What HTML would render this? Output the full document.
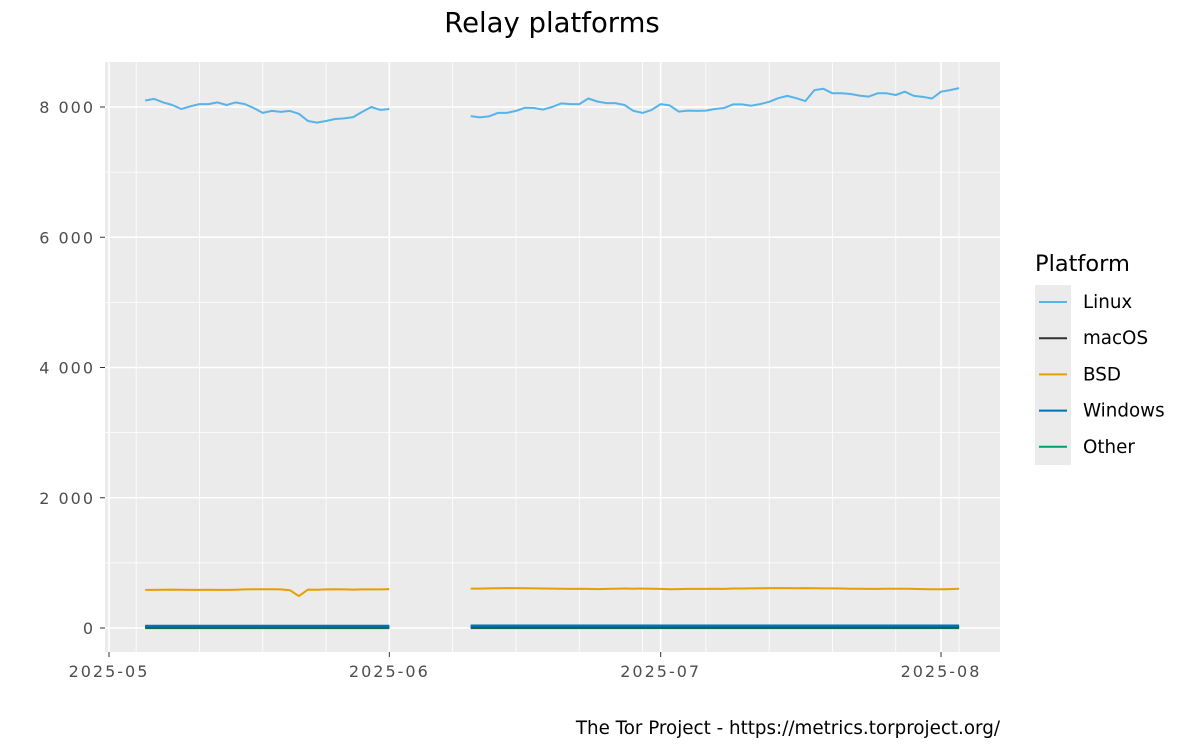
<!DOCTYPE html>
<html><head><meta charset="utf-8"><style>
html,body{margin:0;padding:0;background:#fff;}
svg{display:block;font-family:"DejaVu Sans","Liberation Sans",sans-serif;}
</style></head><body>
<svg id="chart" width="1200" height="750" viewBox="0 0 1200 750" xmlns="http://www.w3.org/2000/svg">
<rect x="0" y="0" width="1200" height="750" fill="#fff"/>
<text x="552" y="32" text-anchor="middle" font-size="27.5" fill="#000">Relay platforms</text>
<rect x="105" y="62" width="895" height="590" fill="#ebebeb"/>
<g id="grid"></g>
<g id="series"></g>
<g id="axes"></g>
<text x="1035" y="271" font-size="22.5" fill="#000">Platform</text>
<rect x="1035" y="285" width="36" height="180" fill="#ebebeb"/>
<g id="legend"></g>
<text x="1000" y="734" text-anchor="end" font-size="18.3" fill="#000">The Tor Project - https://metrics.torproject.org/</text>
</svg>
<script>
const yTicks = [0, 2000, 4000, 6000, 8000];
const yTickLabels = ["0", "2 000", "4 000", "6 000", "8 000"];
const xTickDates = ["2025-05-01", "2025-06-01", "2025-07-01", "2025-08-01"];
const xTickLabels = ["2025-05", "2025-06", "2025-07", "2025-08"];
const seg1Start = "2025-05-05";
const seg2Start = "2025-06-10";
const linux1 = [8100,8125,8070,8030,7970,8010,8045,8045,8070,8030,8070,8045,7985,7910,7940,7925,7940,7895,7785,7760,7785,7815,7825,7845,7925,8000,7955,7970];
const linux2 = [7860,7840,7855,7910,7910,7940,7990,7985,7960,8000,8055,8045,8045,8130,8085,8060,8060,8030,7940,7910,7955,8045,8025,7930,7945,7940,7945,7970,7985,8040,8040,8020,8045,8080,8135,8170,8135,8090,8260,8280,8210,8210,8200,8175,8160,8210,8210,8185,8235,8170,8155,8130,8235,8260,8290];
const bsd1 = [585,585,588,590,588,585,585,586,585,585,588,592,596,595,595,592,580,490,590,588,592,595,592,590,592,593,592,598];
const bsd2 = [605,605,608,610,612,612,610,608,606,605,603,600,602,600,598,600,604,606,603,605,604,600,596,598,600,600,600,602,600,606,606,608,610,612,612,612,610,612,610,608,608,606,604,602,600,600,604,602,604,600,598,596,595,598,604];
const mac1 = [15,15,15,15,15,15,15,15,15,15,15,15,15,15,15,15,15,15,15,15,15,15,15,15,15,15,15,15];
const win1 = [28,28,27,28,28,27,28,28,27,28,27,27,28,28,28,27,28,27,27,28,27,28,28,27,28,27,27,28];
const oth1 = [6,6,6,6,6,6,6,6,6,6,6,6,6,6,6,6,6,6,6,6,6,6,6,6,6,6,6,6];
const winLevel2 = 30, macLevel2 = 16, othLevel2 = 6;
const seriesNames = ["Linux","macOS","BSD","Windows","Other"];
const seriesColors = ["#56B4E9","#333333","#E69F00","#0072B2","#009E73"];

const NS = "http://www.w3.org/2000/svg";
const DAY = 86400000;
const x0 = Date.parse("2025-05-01"), px0 = 109, pxPerDay = (941-109)/92;
function xScale(d){ return px0 + ((typeof d==="number"? d : Date.parse(d)) - x0)/DAY*pxPerDay; }
function yScale(v){ return 628 - v*(628-107)/8000; }
function mk(tag, attrs, parent){ const e=document.createElementNS(NS,tag); for(const k in attrs) e.setAttribute(k,attrs[k]); parent.appendChild(e); return e; }

const grid=document.getElementById('grid');
for(let v=1000; v<=9000; v+=2000){ const y=yScale(v); if(y<62) continue;
  const l=mk('line',{x1:105,x2:1000,y1:y,y2:y,stroke:'#fff','stroke-width':0.8},grid);
    }
for(let t=Date.parse("2025-05-04"); t<=Date.parse("2025-08-10"); t+=7*DAY){ const x=xScale(t); if(x<105||x>1000) continue;
  const l=mk('line',{x1:x,x2:x,y1:62,y2:652,stroke:'#fff','stroke-width':0.8},grid);
    }
yTicks.forEach(v=>{ const y=yScale(v);
  const l=mk('line',{x1:105,x2:1000,y1:y,y2:y,stroke:'#fff','stroke-width':1.6},grid);
    });
xTickDates.forEach(d=>{ const x=xScale(d);
  const l=mk('line',{x1:x,x2:x,y1:62,y2:652,stroke:'#fff','stroke-width':1.6},grid);
    });

const axes=document.getElementById('axes');
yTicks.forEach((v,i)=>{ const y=yScale(v);
  const t=mk('line',{x1:100,x2:105,y1:y,y2:y,stroke:'#333','stroke-width':1},axes);
   
  const tx=mk('text',{x:95,y:y+6,'text-anchor':'end','font-size':16,'letter-spacing':2,fill:'#4d4d4d'},axes);
  tx.textContent=yTickLabels[i];
    });
xTickDates.forEach((d,i)=>{ const x=xScale(d);
  const t=mk('line',{x1:x,x2:x,y1:652,y2:657,stroke:'#333','stroke-width':1},axes);
   
  const tx=mk('text',{x:x,y:677,'text-anchor':'middle','font-size':16,'letter-spacing':2,fill:'#4d4d4d'},axes);
  tx.textContent=xTickLabels[i];
    });

const sg=document.getElementById('series');
function drawLine(vals, start, color, name, w){
  const s=Date.parse(start);
  const pts=vals.map((v,i)=>xScale(s+i*DAY).toFixed(1)+','+yScale(v).toFixed(1)).join(' ');
  const p=mk('polyline',{points:pts,fill:'none',stroke:color,'stroke-width':w||2,'stroke-linejoin':'round'},sg);
   
}
const n2=linux2.length;
const oth2=new Array(n2).fill(othLevel2), mac2=new Array(n2).fill(macLevel2), win2=new Array(n2).fill(winLevel2);
drawLine(oth1,seg1Start,seriesColors[4],'other-line-may',3); drawLine(oth2,seg2Start,seriesColors[4],'other-line-jun-aug',3);
drawLine(mac1,seg1Start,seriesColors[1],'macos-line-may',3); drawLine(mac2,seg2Start,seriesColors[1],'macos-line-jun-aug',3);
drawLine(win1,seg1Start,seriesColors[3],'windows-line-may',3); drawLine(win2,seg2Start,seriesColors[3],'windows-line-jun-aug',3);
drawLine(bsd1,seg1Start,seriesColors[2],'bsd-line-may'); drawLine(bsd2,seg2Start,seriesColors[2],'bsd-line-jun-aug');
drawLine(linux1,seg1Start,seriesColors[0],'linux-line-may'); drawLine(linux2,seg2Start,seriesColors[0],'linux-line-jun-aug');

const lg=document.getElementById('legend');
seriesNames.forEach((n,i)=>{ const y=302+i*36.2;
  const g=mk('g',{},lg);  
  const l=mk('line',{x1:1039,x2:1067,y1:y,y2:y,stroke:seriesColors[i],'stroke-width':2},g);
   
  const t=mk('text',{x:1083,y:y+6,'font-size':18.3,fill:'#000'},g); t.textContent=n;
    });
</script>
</body></html>
